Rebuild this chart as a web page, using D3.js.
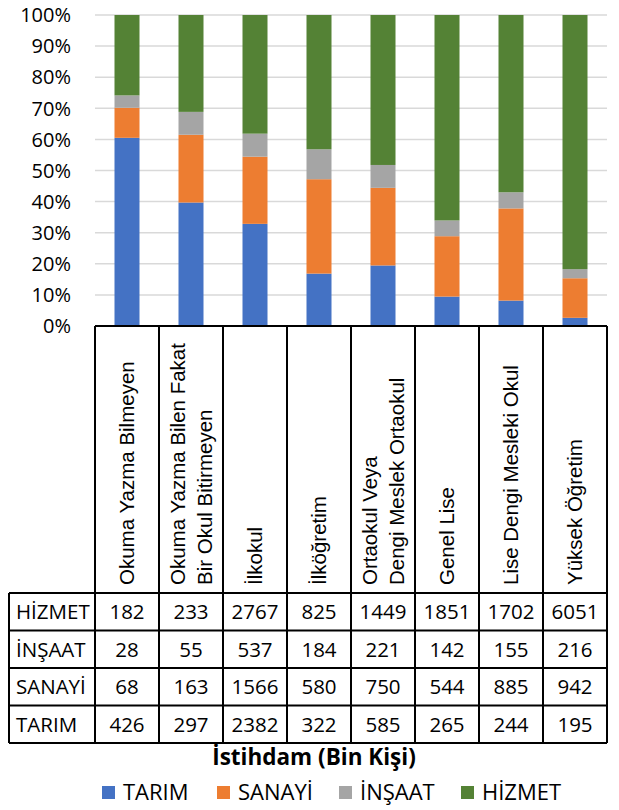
<!DOCTYPE html>
<html>
<head>
<meta charset="utf-8">
<script src="https://cdn.jsdelivr.net/npm/d3@7"></script>
<style>
  body { margin: 0; background: #fff; }
</style>
</head>
<body>
<div id="chart"></div>
<script>
// Categories (education level), multi-line labels split by "\n"
const categories = [
  "Okuma Yazma Bilmeyen",
  "Okuma Yazma Bilen Fakat\nBir Okul Bitirmeyen",
  "İlkokul",
  "İlköğretim",
  "Ortaokul Veya\nDengi Meslek Ortaokul",
  "Genel Lise",
  "Lise Dengi Mesleki Okul",
  "Yüksek Öğretim"
];

// Employment (thousand people) per sector
const tarim  = [426, 297, 2382, 322, 585, 265, 244, 195];
const sanayi = [68, 163, 1566, 580, 750, 544, 885, 942];
const insaat = [28, 55, 537, 184, 221, 142, 155, 216];
const hizmet = [182, 233, 2767, 825, 1449, 1851, 1702, 6051];

const seriesKeys = ["TARIM", "SANAYİ", "İNŞAAT", "HİZMET"];
const seriesColors = ["#4472C4", "#ED7D31", "#A5A5A5", "#548235"];
const yTicks = [0, 0.1, 0.2, 0.3, 0.4, 0.5, 0.6, 0.7, 0.8, 0.9, 1];

const width = 619, height = 810;
const plotLeft = 95, plotRight = 607, plotTop = 15, plotBottom = 326;
const headerBottom = 593, rowH = 37.5, tableLeft = 9;
const numFont = "'Open Sans', sans-serif";
const labelFont = "'Liberation Sans', Arial, sans-serif";

const rows = categories.map((c, i) => ({
  cat: c,
  "TARIM": tarim[i], "SANAYİ": sanayi[i], "İNŞAAT": insaat[i], "HİZMET": hizmet[i]
}));

const stacked = d3.stack().keys(seriesKeys).offset(d3.stackOffsetExpand)(rows);

const svg = d3.select("#chart").append("svg")
  .attr("width", width)
  .attr("height", height);

const x = d3.scaleBand().domain(categories).range([plotLeft, plotRight]).paddingInner(0).paddingOuter(0);
const y = d3.scaleLinear().domain([0, 1]).range([plotBottom, plotTop]);
const barW = 25;

// Gridlines
svg.append("g")
  .selectAll("line")
  .data(yTicks.filter(t => t > 0))
  .join("line")
  .attr("x1", plotLeft).attr("x2", plotRight)
  .attr("y1", d => y(d)).attr("y2", d => y(d))
  .attr("stroke", "#d9d9d9")
  .attr("stroke-width", 1.5);

// Y tick labels
svg.append("g")
  .selectAll("text")
  .data(yTicks)
  .join("text")
  .attr("x", 71)
  .attr("y", d => y(d))
  .attr("dy", "0.36em")
  .attr("text-anchor", "end")
  .attr("font-family", numFont)
  .attr("font-size", 20)
  .attr("fill", "#000")
  .text(d => d3.format(".0%")(d));

// Bars
svg.append("g")
  .selectAll("g")
  .data(stacked)
  .join("g")
  .attr("fill", (d, i) => seriesColors[i])
  .selectAll("rect")
  .data(d => d)
  .join("rect")
  .attr("x", d => x(d.data.cat) + (x.bandwidth() - barW) / 2)
  .attr("width", barW)
  .attr("y", d => y(d[1]))
  .attr("height", d => y(d[0]) - y(d[1]));

// Data table
const table = svg.append("g");
const lineColor = "#000";
const tableRows = [
  { name: "HİZMET", values: hizmet },
  { name: "İNŞAAT", values: insaat },
  { name: "SANAYİ", values: sanayi },
  { name: "TARIM", values: tarim }
];
const tableBottom = headerBottom + rowH * tableRows.length;

// horizontal lines
table.append("line")
  .attr("x1", plotLeft).attr("x2", plotRight)
  .attr("y1", plotBottom).attr("y2", plotBottom)
  .attr("stroke", lineColor).attr("stroke-width", 2);
d3.range(tableRows.length + 1).forEach(i => {
  table.append("line")
    .attr("x1", tableLeft).attr("x2", plotRight)
    .attr("y1", headerBottom + i * rowH).attr("y2", headerBottom + i * rowH)
    .attr("stroke", lineColor).attr("stroke-width", 2);
});
// vertical lines
table.append("line")
  .attr("x1", tableLeft).attr("x2", tableLeft)
  .attr("y1", headerBottom).attr("y2", tableBottom)
  .attr("stroke", lineColor).attr("stroke-width", 2);
table.selectAll("line.col")
  .data(categories.concat(["end"]))
  .join("line")
  .attr("class", "col")
  .attr("x1", (d, i) => plotLeft + i * x.bandwidth())
  .attr("x2", (d, i) => plotLeft + i * x.bandwidth())
  .attr("y1", plotBottom).attr("y2", tableBottom)
  .attr("stroke", lineColor).attr("stroke-width", 2);

// category labels (rotated)
const catLabel = table.selectAll("g.cat")
  .data(categories)
  .join("g")
  .attr("class", "cat")
  .attr("transform", d => `translate(${x(d) + x.bandwidth() / 2},${headerBottom - 8}) rotate(-90)`);
catLabel.each(function (d) {
  const lines = d.split("\n");
  const gap = 27;
  d3.select(this).selectAll("text")
    .data(lines)
    .join("text")
    .attr("x", 0)
    .attr("y", (l, j) => (j - (lines.length - 1) / 2) * gap)
    .attr("dy", "0.36em")
    .attr("font-family", labelFont)
    .attr("font-size", 20.5)
    .attr("fill", "#000")
    .text(l => l);
});

// row labels and values
tableRows.forEach((r, i) => {
  const cy = headerBottom + i * rowH + rowH / 2;
  table.append("text")
    .attr("x", 16).attr("y", cy).attr("dy", "0.36em")
    .attr("font-family", numFont).attr("font-size", 20.5)
    .attr("fill", "#000")
    .text(r.name);
  table.append("g")
    .selectAll("text")
    .data(r.values)
    .join("text")
    .attr("x", (v, j) => x(categories[j]) + x.bandwidth() / 2)
    .attr("y", cy).attr("dy", "0.36em")
    .attr("text-anchor", "middle")
    .attr("font-family", numFont).attr("font-size", 20.5)
    .attr("fill", "#000")
    .text(v => v);
});

// Axis title
svg.append("text")
  .attr("x", 314).attr("y", 757)
  .attr("dy", "0.36em")
  .attr("text-anchor", "middle")
  .attr("font-family", numFont)
  .attr("font-weight", "bold")
  .attr("font-size", 22.5)
  .attr("fill", "#000")
  .text("İstihdam (Bin Kişi)");

// Legend
const legendX = [102, 217, 339, 461];
const legend = svg.append("g")
  .selectAll("g")
  .data(seriesKeys)
  .join("g")
  .attr("transform", (d, i) => `translate(${legendX[i]},786)`);
legend.append("rect")
  .attr("width", 13).attr("height", 13)
  .attr("fill", (d, i) => seriesColors[i]);
legend.append("text")
  .attr("x", 21).attr("y", 6.5).attr("dy", "0.36em")
  .attr("font-family", numFont).attr("font-size", 22)
  .attr("fill", "#000")
  .text(d => d);
</script>
</body>
</html>
